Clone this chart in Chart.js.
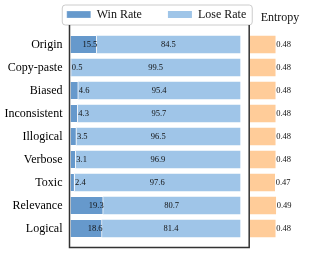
<!DOCTYPE html>
<html>
<head>
<meta charset="utf-8">
<script src="https://cdn.jsdelivr.net/npm/chart.js@4.4.0/dist/chart.umd.min.js"></script>
<style>
  html, body { margin: 0; padding: 0; background: #fff; }
  #wrap { width: 314px; height: 253px; }
</style>
</head>
<body>
<div id="wrap"><canvas id="myChart" width="314" height="253"></canvas></div>
<script>
const categories = ["Origin", "Copy-paste", "Biased", "Inconsistent", "Illogical", "Verbose", "Toxic", "Relevance", "Logical"];
const winRate = [15.5, 0.5, 4.6, 4.3, 3.5, 3.1, 2.4, 19.3, 18.6];
const loseRate = [84.5, 99.5, 95.4, 95.7, 96.5, 96.9, 97.6, 80.7, 81.4];
const entropy = [0.48, 0.48, 0.48, 0.48, 0.48, 0.48, 0.47, 0.49, 0.48];

const winColor = "#6699cc";
const loseColor = "#9fc5e8";
const entropyColor = "#ffcc99";

Chart.defaults.font.family = "'Liberation Serif', 'DejaVu Serif', serif";
Chart.defaults.color = "#111";

const toPoints = (arr) => arr.map((v, i) => ({ x: v, y: i }));

// frame round the legend, drawn under the legend items
const legendFrame = {
  id: "legendFrame",
  beforeDraw(chart) {
    const boxes = chart.legend.legendHitBoxes;
    if (!boxes || !boxes.length) return;
    const first = boxes[0];
    const last = boxes[boxes.length - 1];
    const x0 = first.left - 4.5;
    const x1 = last.left + last.width + 6;
    const cy = first.top + first.height / 2;
    const y0 = cy - 9.5;
    const y1 = cy + 10.5;
    const ctx = chart.ctx;
    ctx.save();
    ctx.beginPath();
    ctx.roundRect(x0, y0, x1 - x0, y1 - y0, 3);
    ctx.fillStyle = "#fff";
    ctx.fill();
    ctx.strokeStyle = "#cccccc";
    ctx.lineWidth = 1;
    ctx.stroke();
    ctx.restore();
  },
};

// panel box, value labels and the entropy title
const annotations = {
  id: "annotations",
  afterDatasetsDraw(chart) {
    const ctx = chart.ctx;
    const area = chart.chartArea;
    const x2 = chart.scales.x2;
    const right = x2.getPixelForValue(0) - 0.8;
    const frameTop = 25;

    ctx.save();
    ctx.strokeStyle = "#333";
    ctx.lineWidth = 1.5;
    ctx.beginPath();
    ctx.moveTo(area.left - 1, frameTop);
    ctx.lineTo(area.left - 1, area.bottom);
    ctx.lineTo(right, area.bottom);
    ctx.lineTo(right, frameTop);
    ctx.stroke();

    const winMeta = chart.getDatasetMeta(0).data;
    const loseMeta = chart.getDatasetMeta(1).data;
    const entMeta = chart.getDatasetMeta(2).data;
    ctx.font = "8.5px 'Liberation Serif', serif";
    ctx.fillStyle = "#111";
    ctx.textBaseline = "middle";
    for (let i = 0; i < categories.length; i++) {
      const w = winMeta[i];
      if (winRate[i] >= 10) {
        ctx.textAlign = "right";
        ctx.fillText(winRate[i].toFixed(1), w.x + 0.5, w.y);
      } else {
        ctx.textAlign = "left";
        ctx.fillText(winRate[i].toFixed(1), w.x + 0.5, w.y);
      }
      const l = loseMeta[i];
      ctx.textAlign = "center";
      ctx.fillText(loseRate[i].toFixed(1), (l.x + l.base) / 2, l.y);
      const e = entMeta[i];
      ctx.textAlign = "left";
      ctx.fillText(entropy[i].toFixed(2), e.x + 1, e.y);
    }

    ctx.font = "12px 'Liberation Serif', serif";
    ctx.textAlign = "center";
    ctx.fillText("Entropy", (x2.getPixelForValue(0) + area.right) / 2, 18);
    ctx.restore();
  },
};

new Chart(document.getElementById("myChart"), {
  type: "bar",
  data: {
    datasets: [
      {
        label: "Win Rate",
        data: toPoints(winRate),
        backgroundColor: winColor,
        borderColor: "#fff",
        borderWidth: { top: 0, right: 1, bottom: 0, left: 0 },
        borderSkipped: false,
        xAxisID: "x",
        stack: "all",
      },
      {
        label: "Lose Rate",
        data: toPoints(loseRate),
        backgroundColor: loseColor,
        borderWidth: 0,
        xAxisID: "x",
        stack: "all",
      },
      {
        label: "Entropy",
        data: toPoints(entropy),
        backgroundColor: entropyColor,
        borderWidth: 0,
        xAxisID: "x2",
        stack: "all",
      },
    ],
  },
  options: {
    indexAxis: "y",
    responsive: false,
    animation: false,
    layout: { padding: { top: -17.5, right: 4, bottom: 5.5, left: 3 } },
    datasets: { bar: { barThickness: 17 } },
    scales: {
      y: {
        type: "linear",
        reverse: true,
        stacked: true,
        offset: false,
        min: -0.609,
        max: 8.826,
        afterBuildTicks: (scale) => {
          scale.ticks = categories.map((c, i) => ({ value: i }));
        },
        afterFit: (scale) => {
          scale.width = 67.5;
          scale.paddingTop = 0;
          scale.paddingBottom = 0;
        },
        ticks: {
          callback: (v) => categories[v],
          font: { size: 12 },
          color: "#000",
          padding: 8,
        },
        grid: { display: false, drawTicks: false, offset: false },
        border: { display: false },
      },
      x: {
        type: "linear",
        stacked: true,
        min: 0,
        max: 141.3,
        display: false,
      },
      x2: {
        type: "linear",
        min: -3.419,
        max: 1.143,
        display: false,
      },
    },
    plugins: {
      legend: {
        position: "top",
        maxHeight: 48,
        labels: {
          boxWidth: 24,
          boxHeight: 7,
          padding: 26,
          font: { size: 12 },
          color: "#111",
          filter: (item) => item.datasetIndex < 2,
        },
      },
      tooltip: { enabled: false },
    },
  },
  plugins: [legendFrame, annotations],
});
</script>
</body>
</html>
